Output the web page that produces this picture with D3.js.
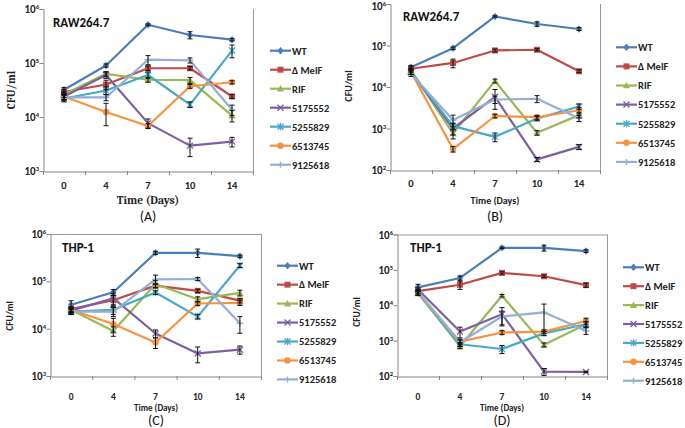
<!DOCTYPE html>
<html><head><meta charset="utf-8">
<script src="https://cdn.jsdelivr.net/npm/d3@7"></script>
<style>body{margin:0;background:#fff;}svg{display:block;}</style>
</head><body>
<svg id="chart" width="685" height="428"></svg>
<script>
// ---------- DATA ----------
const days = ["0", "4", "7", "10", "14"];
const seriesNames = ["WT", "\u0394 MelF", "RIF", "5175552", "5255829", "6513745", "9125618"];
const cellLines = ["RAW264.7", "RAW264.7", "THP-1", "THP-1"];
const panelTags = ["(A)", "(B)", "(C)", "(D)"];
const xTitle = "Time (Days)";
const yTitle = "CFU/ml";
const yTicksA = [1e3, 1e4, 1e5, 1e6];
const yTicksB = [1e2, 1e3, 1e4, 1e5, 1e6];
const yTicksC = [1e3, 1e4, 1e5, 1e6];
const yTicksD = [1e2, 1e3, 1e4, 1e5, 1e6];

// Panel A: RAW264.7
const valuesA = [
  [32000, 90000, 510000, 330000, 270000],
  [29000, 40000, 80000, 80000, 24000],
  [26000, 63000, 49000, 48000, 10600],
  [24000, 60000, 7700, 2950, 3500],
  [22000, 31000, 60000, 17000, 170000],
  [24000, 12400, 6800, 37000, 44000],
  [23000, 23000, 115000, 112000, 13600]
];
const sdA = [
  [3000, 6000, 20000, 50000, 15000],
  [3000, 8000, 8000, 6000, 2000],
  [3000, 6000, 5000, 6000, 2500],
  [3000, 8000, 1500, 1100, 700],
  [3000, 5000, 8000, 2000, 45000],
  [3000, 5500, 700, 3000, 3000],
  [3000, 3000, 22000, 12000, 3000]
];
// Panel B: RAW264.7 (treated)
const valuesB = [
  [30000, 86000, 500000, 330000, 250000],
  [27500, 38000, 76000, 79000, 24000],
  [25000, 760, 14000, 790, 2100],
  [23000, 1000, 5800, 180, 360],
  [23000, 1140, 630, 1740, 3400],
  [23000, 320, 2000, 1870, 2750],
  [21000, 1600, 5000, 5200, 1770]
];
const sdB = [
  [3000, 6000, 20000, 40000, 20000],
  [3000, 9000, 6000, 5000, 2000],
  [3000, 200, 1500, 100, 300],
  [3000, 300, 2900, 20, 50],
  [3000, 200, 150, 200, 500],
  [3000, 50, 200, 200, 500],
  [3000, 500, 1000, 1000, 300]
];
// Panel C: THP-1
const valuesC = [
  [32000, 59000, 400000, 400000, 340000],
  [26000, 40000, 81000, 63000, 39000],
  [25000, 8900, 88000, 42000, 57000],
  [24000, 44000, 7900, 3000, 3600],
  [23000, 25000, 58000, 18000, 216000],
  [25000, 12500, 5100, 34000, 35000],
  [23000, 23000, 110000, 112000, 13000]
];
const sdC = [
  [7000, 8000, 30000, 80000, 20000],
  [3000, 10000, 8000, 5000, 4000],
  [3000, 2000, 15000, 5000, 8000],
  [3000, 12000, 1500, 1100, 700],
  [3000, 5000, 5000, 2000, 20000],
  [3000, 4000, 1300, 3000, 4000],
  [3000, 5000, 25000, 8000, 5000]
];
// Panel D: THP-1 (treated)
const valuesD = [
  [32000, 59000, 420000, 420000, 340000],
  [25000, 38000, 82000, 66000, 37000],
  [22000, 690, 18600, 760, 2900],
  [28000, 1800, 5600, 133, 130],
  [22000, 790, 580, 1600, 2900],
  [22000, 940, 1700, 1800, 3600],
  [24000, 900, 4800, 6300, 1900]
];
const sdD = [
  [7000, 8000, 20000, 80000, 30000],
  [3000, 10000, 6000, 5000, 5000],
  [3000, 100, 1500, 100, 500],
  [3000, 600, 3000, 30, 5],
  [3000, 100, 150, 200, 500],
  [3000, 100, 200, 200, 700],
  [3000, 200, 2000, 4500, 400]
];

// ---------- STYLE / LAYOUT ----------
const colors = ["#4A7EBB", "#BE4B48", "#98B954", "#7D60A0", "#46AAC5", "#F69240", "#93AFD8"];
const markers = ["diamond", "square", "triangle", "x", "star", "circle", "plus"];
const SANS = "Carlito, Lato, 'Open Sans', sans-serif";
const SERIF = "Cambria, 'Liberation Serif', 'DejaVu Serif', serif";

const panels = [
  {vals: valuesA, sd: sdA, ticks: yTicksA, x0: 43, x1: 253, yT: 9, yB: 171,
   lab: [53, 27], tickBase: 188.5, tickSize: 10.5, titleBase: 204, tagBase: 221, cx: 148,
   titleFont: SERIF, titleSize: 11.5, yTitle: [11, 90], yTitleFont: SERIF, yTitleSize: 11,
   leg: [270, 50.7, 19], topBorder: false},
  {vals: valuesB, sd: sdB, ticks: yTicksB, x0: 390, x1: 600, yT: 4, yB: 170,
   lab: [403, 21], tickBase: 186.5, tickSize: 10.5, titleBase: 204, tagBase: 221, cx: 495,
   titleFont: SANS, titleSize: 10, yTitle: [348, 86], yTitleFont: SANS, yTitleSize: 10,
   leg: [616, 47.3, 19.1], topBorder: false},
  {vals: valuesC, sd: sdC, ticks: yTicksC, x0: 50, x1: 261, yT: 234, yB: 376,
   lab: [62, 252], tickBase: 399.5, tickSize: 9.5, titleBase: 410.5, tagBase: 424.5, cx: 156,
   titleFont: SANS, titleSize: 9, yTitle: [10, 316], yTitleFont: SANS, yTitleSize: 9.5,
   leg: [277, 265.7, 18.95], topBorder: true},
  {vals: valuesD, sd: sdD, ticks: yTicksD, x0: 397, x1: 607, yT: 234.5, yB: 376,
   lab: [410, 252], tickBase: 399.5, tickSize: 9.5, titleBase: 410.5, tagBase: 424.5, cx: 502,
   titleFont: SANS, titleSize: 9, yTitle: [357, 312], yTitleFont: SANS, yTitleSize: 9.5,
   leg: [623, 267.3, 18.9], topBorder: true}
];

const svg = d3.select("#chart");

function drawMarker(g, type, color) {
  const s = 3.2;
  if (type === "diamond") {
    g.append("path").attr("d", `M0,${-s-0.5}L${s},0L0,${s+0.5}L${-s},0Z`).attr("fill", color);
  } else if (type === "square") {
    g.append("rect").attr("x", -3).attr("y", -3).attr("width", 6).attr("height", 6).attr("fill", color);
  } else if (type === "triangle") {
    g.append("path").attr("d", `M0,-3.6L3.6,2.8L-3.6,2.8Z`).attr("fill", color);
  } else if (type === "x") {
    g.append("path").attr("d", `M-3,-3L3,3M-3,3L3,-3`).attr("stroke", color).attr("stroke-width", 1.4).attr("fill", "none");
  } else if (type === "star") {
    g.append("path").attr("d", `M-3,-3L3,3M-3,3L3,-3M0,-3.6L0,3.6`).attr("stroke", color).attr("stroke-width", 1.3).attr("fill", "none");
  } else if (type === "circle") {
    g.append("circle").attr("r", 3.2).attr("fill", color);
  } else if (type === "plus") {
    g.append("path").attr("d", `M-3.5,0L3.5,0M0,-3L0,3`).attr("stroke", color).attr("stroke-width", 1.4).attr("fill", "none");
  }
}

panels.forEach((p, pi) => {
  const g = svg.append("g");
  const x = d3.scaleBand().domain(days).range([p.x0, p.x1]).padding(0);
  const y = d3.scaleLog().domain([p.ticks[0], p.ticks[p.ticks.length - 1]]).range([p.yB, p.yT]);
  const xc = d => x(d) + x.bandwidth() / 2;

  // plot area border (right / top)
  g.append("line").attr("x1", p.x1 + 0.5).attr("x2", p.x1 + 0.5).attr("y1", p.yT).attr("y2", p.yB)
    .attr("stroke", "#9a9a9a").attr("stroke-width", 1);
  if (p.topBorder) {
    g.append("line").attr("x1", p.x0).attr("x2", p.x1 + 0.5).attr("y1", p.yT + 0.5).attr("y2", p.yT + 0.5)
      .attr("stroke", "#9a9a9a").attr("stroke-width", 1);
  }

  // y axis
  const yAxis = d3.axisLeft(y).tickValues(p.ticks).tickSize(4).tickFormat(() => "");
  const ya = g.append("g").attr("transform", `translate(${p.x0 + 0.5},0)`).call(yAxis);
  ya.select(".domain").attr("stroke", "#868686");
  ya.selectAll(".tick line").attr("stroke", "#868686");
  p.ticks.forEach(t => {
    const txt = g.append("text").attr("x", p.x0 - 4).attr("y", Math.max(y(t) + 4, 10))
      .attr("text-anchor", "end").attr("font-family", SANS).attr("font-weight", "bold")
      .attr("font-size", 11).attr("fill", "#222");
    txt.append("tspan").text("10");
    txt.append("tspan").attr("dy", -4).attr("font-size", 6.5).text(String(Math.round(Math.log10(t))));
  });

  // x axis
  const xa = g.append("g").attr("transform", `translate(0,${p.yB + 0.5})`)
    .call(d3.axisBottom(x).tickSize(0).tickFormat(() => ""));
  xa.select(".domain").attr("stroke", "#868686");
  const bounds = days.map(d => x(d)).concat([p.x1]);
  g.selectAll(null).data(bounds).enter().append("line")
    .attr("x1", d => d + 0.5).attr("x2", d => d + 0.5)
    .attr("y1", p.yB).attr("y2", p.yB + 4).attr("stroke", "#868686");
  g.selectAll(null).data(days).enter().append("text")
    .attr("x", d => xc(d)).attr("y", p.tickBase).attr("text-anchor", "middle")
    .attr("font-family", SANS).attr("font-weight", "bold").attr("font-size", p.tickSize)
    .attr("fill", "#222").text(d => d);

  // titles
  g.append("text").attr("x", p.cx).attr("y", p.titleBase).attr("text-anchor", "middle")
    .attr("font-family", p.titleFont).attr("font-weight", "bold").attr("font-size", p.titleSize)
    .attr("fill", "#222").text(xTitle);
  g.append("text").attr("x", p.cx).attr("y", p.tagBase).attr("text-anchor", "middle")
    .attr("font-family", SANS).attr("font-size", 14).attr("fill", "#111").text(panelTags[pi]);
  g.append("text").attr("transform", `translate(${p.yTitle[0]},${p.yTitle[1]}) rotate(-90)`)
    .attr("text-anchor", "middle").attr("dy", "0.35em")
    .attr("font-family", p.yTitleFont).attr("font-weight", "bold").attr("font-size", p.yTitleSize)
    .attr("fill", "#222").text(yTitle);
  g.append("text").attr("x", p.lab[0]).attr("y", p.lab[1])
    .attr("font-family", SANS).attr("font-weight", "bold").attr("font-size", 13)
    .attr("fill", "#111").text(cellLines[pi]);

  // series lines
  const line = d3.line().x((v, i) => xc(days[i])).y(v => y(v));
  p.vals.forEach((vals, si) => {
    g.append("path").attr("d", line(vals)).attr("fill", "none")
      .attr("stroke", colors[si]).attr("stroke-width", 2.2).attr("stroke-linejoin", "round");
    vals.forEach((v, i) => {
      const mg = g.append("g").attr("transform", `translate(${xc(days[i])},${y(v)})`);
      drawMarker(mg, markers[si], colors[si]);
    });
  });
  // error bars
  p.vals.forEach((vals, si) => {
    vals.forEach((v, i) => {
      const sd = p.sd[si][i];
      const hi = v + sd;
      const lo = Math.max(v - sd, p.ticks[0] * 0.5);
      const cx = xc(days[i]);
      const yHi = y(hi), yLo = Math.min(y(lo), p.yB);
      g.append("path")
        .attr("d", `M${cx},${yHi}L${cx},${yLo}M${cx - 2.5},${yHi}L${cx + 2.5},${yHi}M${cx - 2.5},${yLo}L${cx + 2.5},${yLo}`)
        .attr("stroke", "#111").attr("stroke-width", 1).attr("fill", "none");
    });
  });

  // legend
  seriesNames.forEach((name, si) => {
    const ly = p.leg[1] + si * p.leg[2];
    const lg = g.append("g");
    lg.append("line").attr("x1", p.leg[0]).attr("x2", p.leg[0] + 21).attr("y1", ly).attr("y2", ly)
      .attr("stroke", colors[si]).attr("stroke-width", 2.2);
    const mg = lg.append("g").attr("transform", `translate(${p.leg[0] + 10.5},${ly})`);
    drawMarker(mg, markers[si], colors[si]);
    lg.append("text").attr("x", p.leg[0] + 22).attr("y", ly + 3.8)
      .attr("font-family", SANS).attr("font-weight", "bold").attr("font-size", 10.5)
      .attr("fill", "#222").text(name);
  });
});
</script>
</body></html>
